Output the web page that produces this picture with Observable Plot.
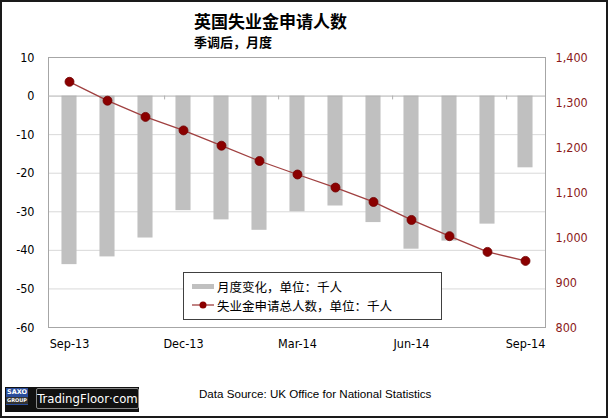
<!DOCTYPE html>
<html><head><meta charset="utf-8">
<script src="https://cdn.jsdelivr.net/npm/d3@7"></script>
<script src="https://cdn.jsdelivr.net/npm/@observablehq/plot@0.6"></script>
<style>
body{margin:0;background:#fff;}
#wrap{position:relative;width:608px;height:418px;overflow:hidden;background:#fff;}
#frameBorder{position:absolute;left:0;top:0;width:608px;height:418px;box-sizing:border-box;border:2px solid #1a1a1a;pointer-events:none;}
#title{position:absolute;left:194px;top:10px;font:bold 17px "Noto Sans CJK SC",sans-serif;line-height:22px;color:#000;white-space:nowrap;}
#subtitle{position:absolute;left:194px;top:33px;font:bold 13px "Noto Sans CJK SC",sans-serif;line-height:18px;color:#000;white-space:nowrap;}
#chart{position:absolute;left:0;top:50px;}
#legend{position:absolute;left:183px;top:272px;width:257px;height:46px;border:1px solid #404040;background:#fff;font:12.5px "Noto Sans CJK SC",sans-serif;color:#000;}
.lrow{position:absolute;left:8px;height:18px;display:flex;align-items:center;white-space:nowrap;}
.lrow svg{margin-right:3px;}
#source{position:absolute;left:199px;top:387px;font:11.6px "Liberation Sans",sans-serif;color:#000;white-space:nowrap;}
#logo{position:absolute;left:5px;top:387px;width:134px;height:25px;background:#111;}
#saxo{position:absolute;left:1px;top:1px;width:22px;height:17px;background:#2a4d9b;color:#fff;font:bold 6.5px "DejaVu Sans",sans-serif;text-align:center;line-height:8px;}
#saxo span{display:block;background:#333;font-size:5px;line-height:7px;margin-top:1px;}
#tf{position:absolute;left:31px;top:1px;width:101px;height:19px;border:1px solid #888;border-radius:2px;color:#fff;font:13px "DejaVu Sans Condensed","DejaVu Sans",sans-serif;line-height:19px;text-align:center;}
</style></head>
<body>
<div id="wrap">
  <div id="title">英国失业金申请人数</div>
  <div id="subtitle">季调后，月度</div>
  <div id="chart"></div>
  <div id="legend">
    <div class="lrow" style="top:4px"><svg width="22" height="10"><rect x="0" y="3" width="22" height="5" fill="#c0c0c0"/></svg>月度变化，单位：千人</div>
    <div class="lrow" style="top:23px"><svg width="22" height="10"><line x1="0" y1="5" x2="22" y2="5" stroke="#a04040" stroke-width="1.3"/><circle cx="11" cy="5" r="3.5" fill="#8b0000"/></svg>失业金申请总人数，单位：千人</div>
  </div>
  <div id="logo"><div id="saxo">SAXO<span>GROUP</span></div><div id="tf">TradingFloor·com</div></div>
  <div id="source">Data Source: UK Office for National Statistics</div>
  <div id="frameBorder"></div>
</div>
<script>
const months = ["Sep-13","Oct-13","Nov-13","Dec-13","Jan-14","Feb-14","Mar-14","Apr-14","May-14","Jun-14","Jul-14","Aug-14","Sep-14"];
const monthlyChange = [-43.7,-41.7,-36.8,-29.7,-32.1,-34.8,-30.0,-28.5,-32.8,-39.7,-37.6,-33.2,-18.6];
const totalClaimants = [1346,1304,1268,1238,1204,1170,1140,1111,1079,1039,1003,968,948];
const leftTicks = [10,0,-10,-20,-30,-40,-50,-60];
const rightTicks = [1400,1300,1200,1100,1000,900,800];
const xTickLabels = ["Sep-13","Dec-13","Mar-14","Jun-14","Sep-14"];
const quarterMarks = ["Nov-13","Feb-14","May-14","Aug-14"];
const leftDomain = [-60,10];
const rightDomain = [800,1400];

const toLeft = v => leftDomain[0] + (v - rightDomain[0]) / (rightDomain[1] - rightDomain[0]) * (leftDomain[1] - leftDomain[0]);
const fromLeft = v => rightDomain[0] + (v - leftDomain[0]) / (leftDomain[1] - leftDomain[0]) * (rightDomain[1] - rightDomain[0]);

const data = months.map((m, i) => ({month: m, change: monthlyChange[i], total: totalClaimants[i]}));

const W = 608, H = 310, mL = 48, mR = 63;
const step = (W - mL - mR) / months.length;

const chart = Plot.plot({
  width: W, height: H,
  marginTop: 7, marginBottom: 33, marginLeft: mL, marginRight: mR,
  style: {fontFamily: "'DejaVu Sans Condensed', 'DejaVu Sans', sans-serif", fontSize: "12.5px", background: "transparent", color: "#000"},
  x: {domain: months, padding: 0},
  y: {domain: leftDomain},
  marks: [
    Plot.ruleY(leftTicks.filter(d => d !== 0 && d !== leftDomain[0] && d !== leftDomain[1]), {stroke: "#d9d9d9", strokeWidth: 1}),
    Plot.barY(data, {x: "month", y: "change", fill: "#c0c0c0", insetLeft: step * 0.3, insetRight: step * 0.3}),
    Plot.frame({stroke: "#a6a6a6"}),
    Plot.ruleY([0], {stroke: "#b0b0b0"}),
    Plot.ruleX(quarterMarks, {x: d => d, y1: 0, y2: -1, dx: step / 2, stroke: "#b0b0b0"}),
    Plot.line(data, {x: "month", y: d => toLeft(d.total), stroke: "#a04040", strokeWidth: 1.3}),
    Plot.dot(data, {x: "month", y: d => toLeft(d.total), r: 4.5, fill: "#8b0000", stroke: "#700000", strokeWidth: 0.8}),
    Plot.axisY({ticks: leftTicks, tickFormat: d => String(d), tickSize: 0, tickPadding: 14, label: null, fill: "#000"}),
    Plot.axisY({anchor: "right", ticks: rightTicks.map(toLeft), tickFormat: d => d3.format(",")(Math.round(fromLeft(d))), tickSize: 0, tickPadding: 10, label: null, fill: "#8b1a1a"}),
    Plot.axisX({ticks: xTickLabels, tickSize: 0, tickPadding: 12, label: null, fill: "#000"})
  ]
});
document.getElementById("chart").appendChild(chart);
</script>
</body></html>
